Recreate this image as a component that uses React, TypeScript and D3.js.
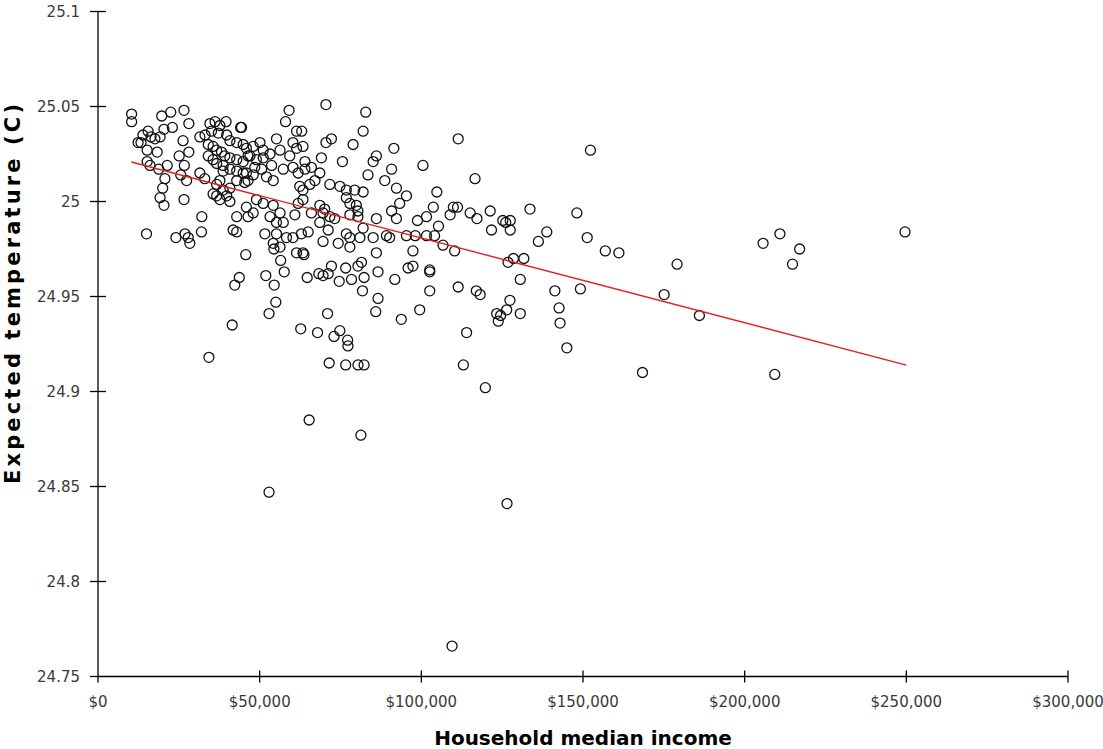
import React from "react";
import * as d3 from "d3";

// Household median income (thousands of $) and expected temperature (C)
const incomeK: number[] = [
  10.4,10.4,19.7,22.5,26.6,28.1,23.0,20.4,13.9,15.5,16.4,17.6,12.4,13.3,19.2,26.3,15.2,18.3,25.1,28.1,
  15.2,21.4,26.7,18.8,25.6,27.4,20.7,31.5,33.0,20.0,19.2,20.4,26.6,32.1,15.0,24.1,26.9,27.9,28.4,32.0,
  41.8,42.9,16.1,
  31.5,33.1,34.6,36.2,37.7,39.6,44.1,35.1,37.2,39.8,40.8,42.9,44.9,34.1,35.6,36.7,38.2,39.2,40.8,42.9,
  44.9,46.4,34.1,35.6,36.7,38.7,40.8,42.9,44.9,46.4,42.9,38.7,37.7,36.7,38.7,40.8,35.6,36.7,37.7,39.8,
  40.8,42.9,
  59.1,70.5,82.8,58.0,61.4,63.0,82.0,44.4,55.2,72.2,70.5,78.9,91.5,45.9,48.0,50.1,51.1,47.0,49.0,51.1,
  53.2,48.5,50.6,53.7,45.9,48.0,52.1,54.2,45.4,56.3,60.3,61.4,63.4,64.0,59.3,60.3,57.3,61.9,64.0,66.0,
  62.4,63.4,65.5,67.1,68.6,69.1,75.6,71.7,74.8,76.8,79.4,82.0,83.5,86.1,85.1,88.7,90.8,68.6,70.1,71.7,
  73.2,69.6,76.8,77.9,79.9,80.4,80.4,77.9,86.1,82.0,89.2,85.1,81.0,76.8,74.3,69.6,65.0,62.9,60.3,58.3,
  55.2,51.6,54.2,56.3,61.4,63.4,48.0,45.9,46.4,49.0,51.1,54.2,53.2,55.2,57.3,56.3,60.9,61.9,63.4,66.0,
  68.6,71.2,77.9,77.9,86.1,92.3,90.8,
  45.7,54.4,63.7,97.4,56.5,57.6,43.7,42.3,51.9,54.5,64.7,68.3,69.6,71.2,72.2,76.6,80.4,81.5,74.6,78.4,
  82.3,81.8,86.6,91.8,95.9,97.4,55.0,52.9,41.5,34.3,71.0,86.6,85.9,93.8,99.5,62.7,67.9,74.8,73.0,77.2,
  77.3,71.5,76.6,80.4,82.3,65.3,81.3,52.9,126.5,109.5,
  111.4,152.3,100.5,116.6,92.3,104.8,95.4,93.3,109.9,111.2,115.1,117.2,121.3,108.9,103.7,101.6,98.8,105.3,133.6,148.1,
  125.2,126.1,127.5,127.5,121.7,138.8,136.2,151.3,90.2,95.4,98.1,101.6,104.1,106.7,110.3,156.9,161.1,126.8,128.5,131.7,
  102.6,102.6,179.1,205.7,210.9,217.0,214.8,249.6,130.6,111.4,117.0,118.2,102.6,141.3,149.2,175.1,127.4,126.4,123.3,124.5,
  123.8,130.6,142.6,142.9,186.0,114.0,145.0,113.0,119.8,168.4,209.3,
];

const tempC: number[] = [
  25.046,25.042,25.045,25.047,25.048,25.041,25.039,25.038,25.035,25.037,25.034,25.033,25.031,25.031,25.034,25.032,25.027,25.026,25.024,25.026,
  25.021,25.019,25.019,25.017,25.014,25.011,25.012,25.015,25.012,25.007,25.002,24.998,25.001,24.992,24.983,24.981,24.983,24.981,24.978,24.984,
  24.985,24.984,25.019,
  25.034,25.035,25.041,25.042,25.040,25.042,25.039,25.037,25.036,25.035,25.032,25.031,25.030,25.030,25.029,25.027,25.026,25.024,25.023,25.022,
  25.021,25.024,25.024,25.022,25.020,25.019,25.017,25.016,25.015,25.011,25.011,25.016,25.011,25.009,25.006,25.007,25.004,25.003,25.001,25.003,
  25.000,24.992,
  25.048,25.051,25.047,25.042,25.037,25.037,25.037,25.039,25.033,25.033,25.031,25.030,25.028,25.028,25.029,25.031,25.027,25.024,25.022,25.023,
  25.025,25.018,25.017,25.019,25.015,25.014,25.013,25.011,25.010,25.027,25.031,25.028,25.029,25.021,25.024,25.018,25.017,25.015,25.017,25.018,
  25.008,25.006,25.009,25.011,25.015,25.023,25.021,25.009,25.008,25.006,25.006,25.005,25.014,25.024,25.021,25.011,25.017,24.998,24.996,24.992,
  24.991,24.994,25.002,24.999,24.998,24.995,24.992,24.993,24.991,24.986,24.982,24.981,24.981,24.983,24.978,24.979,24.984,24.983,24.981,24.981,
  24.983,24.983,24.978,24.976,24.973,24.973,24.994,24.997,24.992,25.001,24.999,24.998,24.992,24.989,24.989,24.994,24.993,24.999,25.001,24.994,
  24.989,24.985,24.981,24.976,24.973,24.991,24.995,
  24.972,24.975,24.972,24.974,24.969,24.963,24.960,24.956,24.961,24.956,24.960,24.962,24.961,24.962,24.966,24.965,24.966,24.968,24.958,24.959,
  24.960,24.953,24.963,24.959,24.965,24.966,24.947,24.941,24.935,24.918,24.941,24.949,24.942,24.938,24.943,24.933,24.931,24.932,24.929,24.927,
  24.924,24.915,24.914,24.914,24.914,24.885,24.877,24.847,24.841,24.766,
  25.033,25.027,25.019,25.012,25.007,25.005,25.003,24.999,24.997,24.997,24.994,24.991,24.995,24.993,24.997,24.992,24.990,24.987,24.996,24.994,
  24.990,24.989,24.990,24.985,24.985,24.984,24.979,24.981,24.981,24.982,24.982,24.982,24.982,24.977,24.974,24.974,24.973,24.968,24.970,24.970,
  24.964,24.963,24.967,24.978,24.983,24.975,24.967,24.984,24.959,24.955,24.953,24.951,24.953,24.953,24.954,24.951,24.948,24.943,24.941,24.940,
  24.937,24.941,24.944,24.936,24.940,24.931,24.923,24.914,24.902,24.910,24.909,
];

// Linear trendline (fitted over the data range)
const trendIncome: number[] = [10300, 250000];
const trendTemp: number[] = [25.0208, 24.9139];

const xTicks: number[] = [0, 50000, 100000, 150000, 200000, 250000, 300000];
const xTickLabels: string[] = ["$0", "$50,000", "$100,000", "$150,000", "$200,000", "$250,000", "$300,000"];
const yTicks: number[] = [24.75, 24.8, 24.85, 24.9, 24.95, 25, 25.05, 25.1];
const yTickLabels: string[] = ["24.75", "24.8", "24.85", "24.9", "24.95", "25", "25.05", "25.1"];

const W = 1103;
const H = 749;
const left = 98;
const right = 1068;
const top = 11.5;
const bottom = 676.5;

export default function App() {
  const x = d3.scaleLinear().domain([0, 300000]).range([left, right]);
  const y = d3.scaleLinear().domain([24.75, 25.1]).range([bottom, top]);
  const points = incomeK.map((v, i) => ({ inc: v * 1000, t: tempC[i] }));
  const trend = d3
    .line<number>()
    .x((d) => x(d))
    .y((_, i) => y(trendTemp[i]));
  const font = "'DejaVu Sans', Verdana, sans-serif";
  const labelColor = "#3a3a3a";
  return (
    <svg
      width={W}
      height={H}
      style={{ position: "absolute", left: 0, top: 0, background: "#fff" }}
      fontFamily={font}
    >
      <rect x={0} y={0} width={W} height={H} fill="#fff" />
      {/* axes */}
      <line x1={left} x2={left} y1={top} y2={bottom} stroke="#000" strokeWidth={1.3} />
      <line x1={left} x2={right} y1={bottom} y2={bottom} stroke="#000" strokeWidth={1.3} />
      {yTicks.map((t, i) => (
        <g key={"yt" + i}>
          <line
            x1={left - 8}
            x2={i === 0 ? left : left + 8}
            y1={y(t)}
            y2={y(t)}
            stroke="#000"
            strokeWidth={1.3}
          />
          <text
            x={80}
            y={y(t)}
            dy="0.36em"
            textAnchor="end"
            fontSize={15}
            fill={labelColor}
          >
            {yTickLabels[i]}
          </text>
        </g>
      ))}
      {xTicks.map((t, i) => (
        <g key={"xt" + i}>
          <line
            x1={x(t)}
            x2={x(t)}
            y1={i === 0 ? bottom : bottom - 6}
            y2={bottom + 6}
            stroke="#000"
            strokeWidth={1.3}
          />
          <text x={x(t)} y={707} textAnchor="middle" fontSize={15} fill={labelColor}>
            {xTickLabels[i]}
          </text>
        </g>
      ))}
      {/* points */}
      {points.map((p, i) => (
        <circle
          key={"p" + i}
          cx={x(p.inc)}
          cy={y(p.t)}
          r={5}
          fill="none"
          stroke="#111"
          strokeWidth={1.3}
        />
      ))}
      {/* trendline */}
      <path d={trend(trendIncome) || ""} fill="none" stroke="#e02020" strokeWidth={1.4} />
      {/* axis titles */}
      <text
        x={(left + right) / 2}
        y={745}
        textAnchor="middle"
        fontSize={20}
        fontWeight="bold"
        fill="#000"
      >
        Household median income
      </text>
      <text
        transform={`translate(20, 294) rotate(-90)`}
        textAnchor="middle"
        fontSize={21}
        fontWeight="bold"
        fill="#000"
        textLength={380}
        lengthAdjust="spacing"
      >
        Expected temperature (C)
      </text>
    </svg>
  );
}
